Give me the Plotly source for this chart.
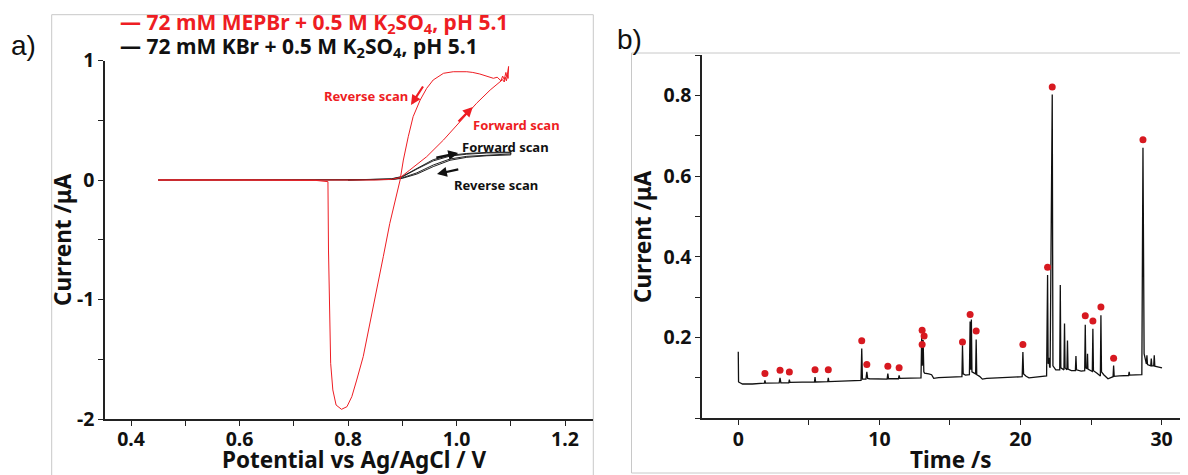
import plotly.graph_objects as go

# ---------------- Panel a) cyclic voltammetry ----------------
# 72 mM MEPBr (red): forward scan 0.45 -> 1.10 V, then reverse scan back to 0.45 V
mepbr_potential = [0.45, 0.60, 0.70, 0.74, 0.76, 0.80, 0.85, 0.88, 0.896,
                   0.914, 0.945, 0.976, 1.006, 1.037, 1.062, 1.080, 1.085, 1.088, 1.090, 1.092, 1.094, 1.095,
                   1.096, 1.093, 1.091, 1.088, 1.085, 1.082, 1.078, 1.075, 1.068, 1.055, 1.043, 1.030,
                   1.019, 0.994, 0.976, 0.957, 0.945, 0.933, 0.920, 0.911, 0.902, 0.896,
                   0.890, 0.877, 0.865, 0.853, 0.841, 0.828, 0.816, 0.807, 0.798, 0.788,
                   0.778, 0.772, 0.768, 0.766, 0.764, 0.763, 0.740, 0.60, 0.45]
mepbr_current = [0.0, 0.0, 0.0, -0.004, -0.006, -0.002, 0.0, 0.005, 0.02,
                 0.084, 0.195, 0.335, 0.488, 0.642, 0.753, 0.823, 0.84, 0.82, 0.86, 0.83, 0.88, 0.85,
                 0.95, 0.86, 0.90, 0.84, 0.87, 0.83, 0.85, 0.86, 0.851, 0.87, 0.887, 0.90,
                 0.906, 0.906, 0.893, 0.837, 0.767, 0.669, 0.530, 0.362, 0.167, 0.0,
                 -0.112, -0.363, -0.642, -0.921, -1.199, -1.478, -1.674, -1.813, -1.897, -1.919,
                 -1.883, -1.757, -1.534, -1.144, -0.586, -0.014, -0.003, 0.0, 0.0]

# 72 mM KBr (black): two cycles, nearly overlapping
kbr_potential = [0.45, 0.60, 0.80, 0.88, 0.90, 0.927, 0.957, 0.988, 1.019, 1.056, 1.100,
                 1.100, 1.056, 1.019, 0.988, 0.957, 0.927, 0.90, 0.88, 0.80,
                 0.80, 0.88, 0.90, 0.927, 0.957, 0.988, 1.019, 1.056, 1.100,
                 1.100, 1.056, 1.019, 0.988, 0.957, 0.927, 0.90, 0.88, 0.80, 0.60, 0.45]
kbr_current = [0.0, 0.0, 0.0, 0.004, 0.014, 0.050, 0.112, 0.165, 0.190, 0.203, 0.210,
               0.228, 0.226, 0.216, 0.200, 0.160, 0.092, 0.026, 0.008, 0.0,
               0.0, 0.005, 0.018, 0.060, 0.125, 0.176, 0.198, 0.210, 0.218,
               0.233, 0.231, 0.222, 0.207, 0.170, 0.100, 0.030, 0.010, 0.0, 0.0, 0.0]

a_xticks = [0.4, 0.6, 0.8, 1.0, 1.2]
a_xticklabels = ["0.4", "0.6", "0.8", "1.0", "1.2"]
a_yticks = [1, 0, -1, -2]
a_yticklabels = ["1", "0", "-1", "-2"]

# ---------------- Panel b) current-time transient ----------------
time_s = [0.0, 0.02, 0.3, 1.0,
          1.85, 1.89, 1.93, 2.90, 2.96, 3.02, 3.58, 3.62, 3.66,
          5.40, 5.44, 5.48, 6.34, 6.38, 6.42,
          8.70, 8.75, 8.80, 9.05, 9.11, 9.17, 9.30,
          10.55, 10.60, 10.65, 11.35, 11.40, 11.45,
          12.95, 13.00, 13.04, 13.10, 13.15, 13.20, 13.50, 13.70, 13.85, 14.20,
          15.85, 15.89, 15.94, 16.10, 16.38, 16.43, 16.47, 16.52, 16.56,
          16.82, 16.86, 16.90, 17.10, 17.30, 17.60,
          20.12, 20.17, 20.22, 20.40, 20.60,
          21.85, 21.92, 21.96, 22.02, 22.06, 22.10, 22.25, 22.30, 22.50,
          22.78, 22.82, 22.86, 23.08, 23.12, 23.16, 23.29, 23.33, 23.37, 23.60,
          23.89, 23.93, 23.97, 24.30, 24.55, 24.59, 24.63, 24.72, 24.75, 24.78,
          25.09, 25.13, 25.17, 25.40, 25.66, 25.70, 25.74, 25.90, 26.20, 26.40,
          26.56, 26.60, 26.64, 27.00, 27.66, 27.70, 27.74,
          28.60, 28.68, 28.76, 28.85, 28.92, 28.96, 29.00,
          29.23, 29.27, 29.31, 29.44, 29.48, 29.52, 29.80, 30.03]
current_uA = [0.165, 0.090, 0.085, 0.085,
              0.087, 0.094, 0.087, 0.088, 0.100, 0.088, 0.088, 0.096, 0.089,
              0.090, 0.102, 0.090, 0.091, 0.100, 0.091,
              0.094, 0.173, 0.097, 0.097, 0.115, 0.099, 0.098,
              0.097, 0.111, 0.098, 0.098, 0.106, 0.099,
              0.100, 0.205, 0.130, 0.194, 0.115, 0.112, 0.110, 0.108, 0.099, 0.101,
              0.103, 0.181, 0.110, 0.107, 0.108, 0.240, 0.120, 0.245, 0.115,
              0.110, 0.195, 0.108, 0.104, 0.097, 0.099,
              0.103, 0.164, 0.110, 0.104, 0.100,
              0.105, 0.355, 0.135, 0.150, 0.128, 0.125, 0.802, 0.130, 0.120,
              0.120, 0.330, 0.125, 0.120, 0.235, 0.125, 0.120, 0.193, 0.122, 0.118,
              0.118, 0.154, 0.120, 0.117, 0.118, 0.232, 0.125, 0.123, 0.160, 0.122,
              0.116, 0.222, 0.118, 0.112, 0.105, 0.255, 0.115, 0.108, 0.098, 0.101,
              0.103, 0.131, 0.104, 0.105, 0.106, 0.115, 0.107,
              0.108, 0.670, 0.160, 0.140, 0.135, 0.156, 0.133,
              0.130, 0.148, 0.130, 0.130, 0.156, 0.129, 0.127, 0.125]

# detected peaks (red dots)
peak_time_s = [1.89, 2.96, 3.62, 5.44, 6.38, 8.75, 9.11, 10.6, 11.4, 13.03, 13.17, 13.03,
               15.89, 16.43, 16.86, 20.17, 21.92, 22.25, 24.59, 25.13, 25.70, 26.6, 28.68]
peak_current_uA = [0.111, 0.119, 0.115, 0.120, 0.120, 0.192, 0.133, 0.129, 0.125, 0.218, 0.204, 0.183,
                   0.189, 0.257, 0.216, 0.183, 0.374, 0.821, 0.254, 0.241, 0.276, 0.149, 0.690]

b_xticks = [0, 10, 20, 30]
b_xticklabels = ["0", "10", "20", "30"]
b_yticks = [0.2, 0.4, 0.6, 0.8]
b_yticklabels = ["0.2", "0.4", "0.6", "0.8"]

RED = "#ee1d23"
FONT = "Noto Sans"
PAGE_OFFSET = 8          # browser's default body margin
W, H = 1188 - PAGE_OFFSET, 475 - PAGE_OFFSET

fig = go.Figure()
fig.add_trace(go.Scatter(x=kbr_potential, y=kbr_current, mode="lines",
                         line=dict(color="#222222", width=1), xaxis="x", yaxis="y",
                         showlegend=False))
fig.add_trace(go.Scatter(x=mepbr_potential, y=mepbr_current, mode="lines",
                         line=dict(color=RED, width=1), xaxis="x", yaxis="y",
                         showlegend=False))
fig.add_trace(go.Scatter(x=time_s, y=current_uA, mode="lines",
                         line=dict(color="#111111", width=1.3), xaxis="x2", yaxis="y2",
                         showlegend=False))
fig.add_trace(go.Scatter(x=peak_time_s, y=peak_current_uA, mode="markers",
                         marker=dict(color="#d71920", size=7), xaxis="x2", yaxis="y2",
                         showlegend=False))

def px_x(p):
    return (p - PAGE_OFFSET) / W

def px_y(p):
    return 1 - (p - PAGE_OFFSET) / H

axis_common = dict(showline=True, linecolor="#222222", linewidth=1.6, ticks="outside",
                   ticklen=5, tickwidth=1.4, tickcolor="#222222", showgrid=False,
                   zeroline=False, mirror=False, automargin=False,
                   tickfont=dict(family=FONT, size=19.5, color="#111111", weight="bold"))
minor_common = dict(ticks="outside", ticklen=5, tickwidth=1.2, tickcolor="#222222")

fig.update_layout(
    width=W, height=H, autosize=False,
    margin=dict(l=0, r=0, t=0, b=0, pad=0),
    paper_bgcolor="white", plot_bgcolor="white",
    xaxis=dict(axis_common, domain=[px_x(105), px_x(593)], range=[0.352, 1.2516],
               anchor="y", tickmode="array", tickvals=a_xticks, ticktext=a_xticklabels,
               ticklabelstandoff=-3,
               minor=dict(minor_common, dtick=0.1, tick0=0.0)),
    yaxis=dict(axis_common, domain=[px_y(419), px_y(60.5)], range=[-2, 1],
               anchor="x", tickmode="array", tickvals=a_yticks, ticktext=a_yticklabels,
               minor=dict(minor_common, dtick=0.5, tick0=0.0)),
    xaxis2=dict(axis_common, domain=[px_x(702), px_x(1187)], range=[-2.57, 31.8],
                anchor="y2", tickmode="array", tickvals=b_xticks, ticktext=b_xticklabels,
                ticklabelstandoff=-3,
                minor=dict(minor_common, dtick=5, tick0=0)),
    yaxis2=dict(axis_common, domain=[px_y(418.3), px_y(55)], range=[0, 0.9],
                anchor="x2", tickmode="array", tickvals=b_yticks, ticktext=b_yticklabels,
                minor=dict(minor_common, dtick=0.1, tick0=0)),
)

# light grey panel frames
fig.add_shape(type="rect", xref="paper", yref="paper",
              x0=px_x(51.7), x1=px_x(593.3), y0=-0.02, y1=px_y(14.7),
              line=dict(color="#c8c8c8", width=1), fillcolor="rgba(0,0,0,0)", layer="below")
fig.add_shape(type="rect", xref="paper", yref="paper",
              x0=px_x(631.5), x1=1.02, y0=px_y(473), y1=px_y(53),
              line=dict(color="#c8c8c8", width=1), fillcolor="rgba(0,0,0,0)", layer="below")

ann = []
# panel letters
ann.append(dict(text="a)", x=px_x(9), y=px_y(45), xref="paper", yref="paper", xanchor="left",
                yanchor="middle", showarrow=False, font=dict(family="Liberation Sans", size=28, color="#111111")))
ann.append(dict(text="b)", x=px_x(615), y=px_y(40), xref="paper", yref="paper", xanchor="left",
                yanchor="middle", showarrow=False, font=dict(family="Liberation Sans", size=28, color="#111111")))
# axis titles
title_font = dict(family=FONT, size=22.5, color="#111111", weight="bold")
ann.append(dict(text="Potential vs Ag/AgCl / V", x=px_x(354), y=px_y(459), xref="paper", yref="paper",
                xanchor="center", yanchor="middle", showarrow=False, font=title_font))
ann.append(dict(text="Time /s", x=px_x(951), y=px_y(459), xref="paper", yref="paper",
                xanchor="center", yanchor="middle", showarrow=False, font=title_font))
ann.append(dict(text="Current /μA", x=px_x(62), y=px_y(240), xref="paper", yref="paper", textangle=-90,
                xanchor="center", yanchor="middle", showarrow=False, font=title_font))
ann.append(dict(text="Current /μA", x=px_x(643), y=px_y(237), xref="paper", yref="paper", textangle=-90,
                xanchor="center", yanchor="middle", showarrow=False, font=title_font))
# legend texts
ann.append(dict(text="— 72 mM MEPBr + 0.5 M K<sub>2</sub>SO<sub>4</sub>, pH 5.1", x=px_x(118), y=px_y(23),
                xref="paper", yref="paper", xanchor="left", yanchor="middle", showarrow=False,
                font=dict(family=FONT, size=21, color=RED, weight="bold")))
ann.append(dict(text="— 72 mM KBr + 0.5 M K<sub>2</sub>SO<sub>4</sub>, pH 5.1", x=px_x(118), y=px_y(47),
                xref="paper", yref="paper", xanchor="left", yanchor="middle", showarrow=False,
                font=dict(family=FONT, size=21, color="#111111", weight="bold")))
# scan labels
scan_labels = [("Reverse scan", 0.833, 0.703, RED), ("Forward scan", 1.111, 0.46, RED),
               ("Forward scan", 1.091, 0.276, "#111111"), ("Reverse scan", 1.073, -0.042, "#111111")]
for t, x, y, c in scan_labels:
    ann.append(dict(text=t, x=x, y=y, xref="x", yref="y", showarrow=False, xanchor="center",
                    yanchor="middle", font=dict(family=FONT, size=13, color=c, weight="bold")))
# arrows (head, tail)
arrows = [((0.916, 0.628), (0.940, 0.795), RED), ((1.030, 0.611), (1.001, 0.477), RED),
          ((1.003, 0.226), (0.960, 0.184), "#111111"), ((0.964, 0.050), (1.006, 0.092), "#111111")]
for (hx, hy), (tx, ty), c in arrows:
    ann.append(dict(x=hx, y=hy, ax=tx, ay=ty, xref="x", yref="y", axref="x", ayref="y", text="",
                    showarrow=True, arrowhead=2, arrowsize=0.9, arrowwidth=2.2, arrowcolor=c))
fig.update_layout(annotations=ann)

fig.write_html("out.html")
